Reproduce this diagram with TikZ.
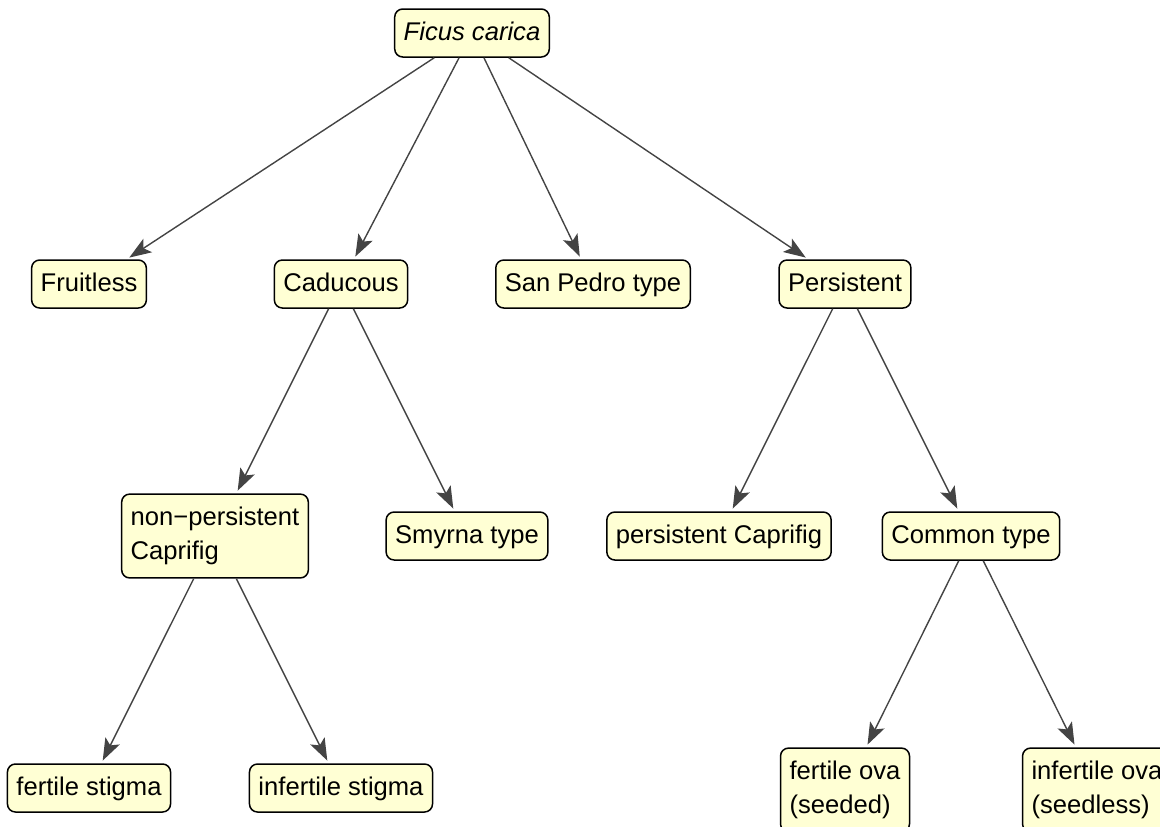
\documentclass[tikz,border=0pt]{standalone}
\usepackage{fontspec}
\setmainfont{Liberation Sans}
\usepackage{xcolor}
\usetikzlibrary{arrows.meta}

\definecolor{boxfill}{RGB}{255,255,212}
\definecolor{edgegray}{RGB}{68,68,68}

\tikzset{
  taxon/.style={draw=black, fill=boxfill, line width=0.75pt, rounded corners=4pt,
    inner xsep=4.5pt, inner ysep=4pt, minimum height=24pt, align=left,
    text height=9.8pt, text depth=2.2pt,
    font=\fontsize{12.8}{17}\selectfont},
  twoline/.style={text height=, text depth=, inner ysep=6.5pt},
  arr/.style={draw=edgegray, line width=0.7pt, shorten >=1.5pt,
    -{Stealth[length=11pt, width=8pt, inset=2.5pt]}}
}

\begin{document}
\begin{tikzpicture}[x=0.5pt, y=-0.5pt]
\useasboundingbox (0,0) rectangle (1160,826);
\clip (0,0) rectangle (1160,826);

% Root
\node[taxon] (ficus) at (472,33) {\itshape Ficus carica};

% First level
\node[taxon] (fruitless) at (89,284) {Fruitless};
\node[taxon] (caducous) at (341,284) {Caducous};
\node[taxon] (sanpedro) at (593,284) {San Pedro type};
\node[taxon] (persistent) at (845,284) {Persistent};

% Second level
\node[taxon, twoline] (nonpers) at (215,536) {non−persistent\\Caprifig};
\node[taxon] (smyrna) at (467,536) {Smyrna type};
\node[taxon] (perscap) at (719,536) {persistent Caprifig};
\node[taxon] (common) at (971,536) {Common type};

% Third level
\node[taxon] (fstigma) at (89,788) {fertile stigma};
\node[taxon] (istigma) at (341,788) {infertile stigma};
\node[taxon, twoline] (fova) at (845,790) {fertile ova\\(seeded)};
\node[taxon, twoline] (iova) at (1097,790) {infertile ova\\(seedless)};

% Edges
\draw[arr] (ficus) -- (fruitless);
\draw[arr] (ficus) -- (caducous);
\draw[arr] (ficus) -- (sanpedro);
\draw[arr] (ficus) -- (persistent);
\draw[arr] (caducous) -- (nonpers);
\draw[arr] (caducous) -- (smyrna);
\draw[arr] (persistent) -- (perscap);
\draw[arr] (persistent) -- (common);
\draw[arr] (nonpers) -- (fstigma);
\draw[arr] (nonpers) -- (istigma);
\draw[arr] (common) -- (fova);
\draw[arr] (common) -- (iova);
\end{tikzpicture}
\end{document}
